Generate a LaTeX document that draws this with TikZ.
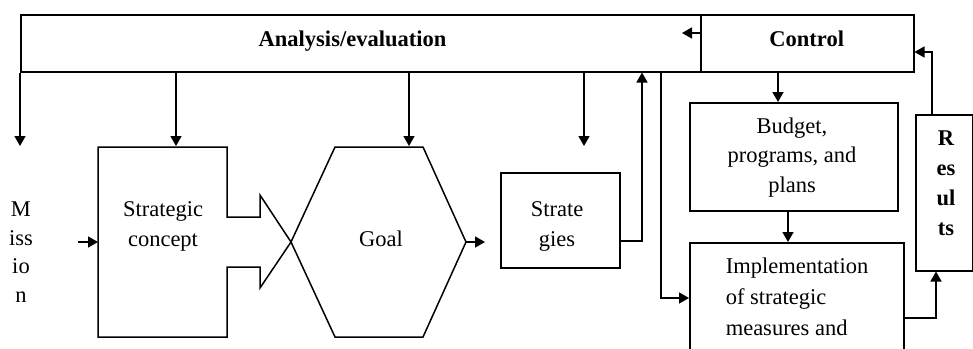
\documentclass[tikz,border=0pt]{standalone}
\usepackage{fontspec}
\setmainfont{Liberation Serif}
\usetikzlibrary{arrows.meta}
\begin{document}
\begin{tikzpicture}[x=1pt,y=-1pt, line width=1.5pt,
  arr/.style={-{Triangle[length=10pt,width=11pt]}},
  txt/.style={font=\fontsize{22.5}{30}\selectfont, align=center, inner sep=0pt, anchor=base},
  btxt/.style={txt, font=\fontsize{22.5}{30}\selectfont\bfseries},
  box/.style={draw, inner sep=0pt, anchor=north west}]
\useasboundingbox (0,0) rectangle (973,348);
% boxes
\node[box, minimum width=680pt, minimum height=57pt] (ana) at (20,14) {};
\node[box, minimum width=213pt, minimum height=57pt] (ctrl) at (700,14) {};
\node[box, minimum width=208pt, minimum height=108pt] (budget) at (689,102) {};
\node[box, minimum width=214pt, minimum height=130pt] (impl) at (689,242) {};
\node[box, minimum width=57pt, minimum height=156pt] (res) at (915,114) {};
\node[box, minimum width=119pt, minimum height=95pt] (strat) at (500,172) {};
% strategic concept shape
\draw (98,147) -- (227,147) -- (227,217) -- (260,217) -- (260,195) -- (291,242)
  -- (260,288) -- (260,267) -- (227,267) -- (227,337) -- (98,337) -- cycle;
\coordinate (sconW) at (98,242);
% goal hexagon
\draw (335,147) -- (423,147) -- (466,242) -- (423,337) -- (335,337) -- (291,242) -- cycle;
\coordinate (goalE) at (466,242);
% texts (multi-line nodes: base anchor = last line baseline)
\node[btxt] (anat) at (352.5,46.5) {Analysis/evaluation};
\node[btxt] (ctrlt) at (806.7,46.5) {Control};
\node[txt, font=\fontsize{22.5}{28.5}\selectfont] (mis) at (21,302) {M\\iss\\io\\n};
\node[txt] (scont) at (163,246) {Strategic\\concept};
\node[txt] (goalt) at (381,246) {Goal};
\node[txt] (stratt) at (557,246) {Strate\\gies};
\node[txt, font=\fontsize{22.5}{29.5}\selectfont] (budt) at (792,192) {Budget,\\programs, and\\plans};
\node[txt, align=left, anchor=base west, font=\fontsize{22.5}{31}\selectfont] (implt) at (725,335) {Implementation\\of strategic\\measures and};
\node[btxt] (rest) at (946,235) {R\\es\\ul\\ts};
% coordinates
\coordinate (d1) at (20,146);
\coordinate (d2) at (176,146);
\coordinate (d3) at (409,146);
\coordinate (d4) at (584,146);
\coordinate (misA) at (78,242);
\coordinate (stratIn) at (485,242);
\coordinate (sOut) at (619,241);
\coordinate (upx) at (642,241);
\coordinate (dnx) at (661,298);
\coordinate (ctrlArr) at (682,33);
\coordinate (c1) at (778,0);
\coordinate (c2) at (788,0);
\coordinate (iOut) at (936,318);
\coordinate (rUp) at (932,52);
% connectors
\draw[arr] (ana.south -| d1) -- (d1);
\draw[arr] (ana.south -| d2) -- (d2);
\draw[arr] (ana.south -| d3) -- (d3);
\draw[arr] (ana.south -| d4) -- (d4);
\draw[arr] (ctrl.west |- ctrlArr) -- (ctrlArr);
\draw[arr] (misA) -- (sconW);
\draw[arr] (goalE) -- (stratIn);
\draw[arr] (sOut) -- (upx) -- (ana.south -| upx);
\draw[arr] (ana.south -| dnx) -- (dnx) -- (impl.west |- dnx);
\draw[arr] (ctrl.south -| c1) -- (budget.north -| c1);
\draw[arr] (budget.south -| c2) -- (impl.north -| c2);
\draw[arr] (impl.east |- iOut) -- (iOut) -- (res.south -| iOut);
\draw[arr] (res.north -| rUp) -- (rUp) -- (ctrl.east |- rUp);
\end{tikzpicture}
\end{document}
